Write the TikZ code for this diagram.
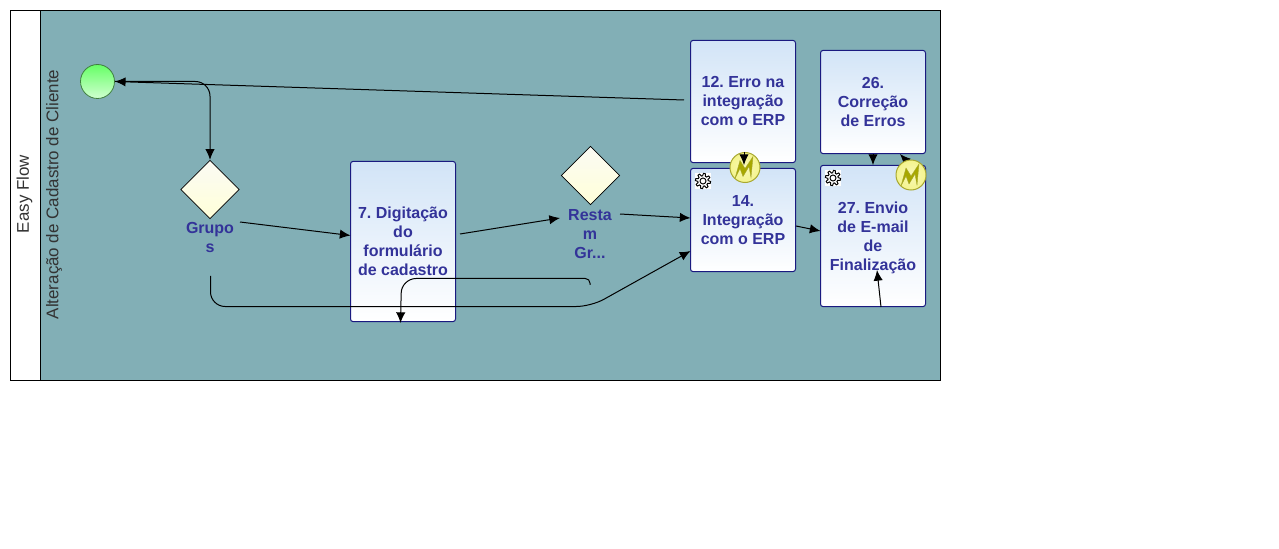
\documentclass[tikz,border=0pt]{standalone}
\usepackage{fontspec}
\setmainfont{Liberation Sans}
\usetikzlibrary{arrows.meta,shapes.geometric}
\definecolor{lanefill}{HTML}{82AFB6}
\definecolor{lanelabel}{HTML}{333333}
\definecolor{tasktext}{HTML}{333399}
\definecolor{taskline}{HTML}{1A1A80}
\definecolor{tasktop}{HTML}{D2E4F7}
\definecolor{gwtop}{HTML}{FBFBF4}
\definecolor{gwmid}{HTML}{FFFFD8}
\definecolor{badgefill}{HTML}{F4F48C}
\definecolor{badgeline}{HTML}{A8A830}
\definecolor{boltfill}{HTML}{A8A800}
\definecolor{starttop}{HTML}{66FF66}
\definecolor{startbot}{HTML}{D0FFD0}
\definecolor{startline}{HTML}{3F7F3F}
\tikzset{
  x=0.75pt,y=-0.75pt,
  lbl/.style={font=\bfseries\fontsize{12}{14.25}\selectfont,text=tasktext,align=center,inner sep=0pt},
  taskbox/.style={draw=taskline,line width=0.75pt,rounded corners=2pt,top color=tasktop,bottom color=white,
    minimum width=78.75pt,lbl},
  gateway/.style={diamond,draw=black,line width=0.5pt,minimum width=44pt,minimum height=44pt,inner sep=0pt,
    top color=gwtop,bottom color=gwmid},
  startev/.style={circle,draw=startline,line width=0.6pt,minimum size=25.5pt,inner sep=0pt,
    top color=starttop,bottom color=startbot},
  badge/.style={circle,draw=badgeline,line width=0.75pt,minimum size=22.5pt,inner sep=0pt,
    inner color=badgefill!60!white,outer color=badgefill},
  flow/.style={draw=black,line width=0.75pt,-{Latex[length=8pt,width=7pt]},rounded corners=11pt},
  lanetext/.style={font=\fontsize{12.7}{14}\selectfont,text=lanelabel,rotate=90,inner sep=0pt}
}
\newcommand{\gearicon}[2]{%
  \fill[white] (#1-8,#2-8) rectangle (#1+8,#2+8);
  \draw[black,line width=0.7pt,fill=white]
    plot[domain=11.25:371.25,samples=97] ({#1+(6.4+1.2*max(-1,min(1,2*sin(8*\x))))*cos(\x)},{#2+(6.4+1.2*max(-1,min(1,2*sin(8*\x))))*sin(\x)}) -- cycle;
  \draw[black,line width=0.7pt] (#1,#2) circle[radius=3];
}
\newcommand{\boltmark}[2]{%
  \fill[boltfill,draw=badgeline,line width=0.3pt]
    (#1-10,#2+11) -- (#1-5,#2-7) -- (#1+0,#2+1) -- (#1+8,#2-11) -- (#1+6,#2+10)
    -- (#1+4,#2-1) -- (#1-2,#2+9) -- (#1-5,#2+1) -- cycle;
}
\begin{document}
\frenchspacing
\begin{tikzpicture}
\useasboundingbox (0,0) rectangle (1279,549);
\fill[white] (0,0) rectangle (1279,549);
% pool and lane
\fill[white] (10.5,10.5) rectangle (40.5,380.5);
\fill[lanefill] (40.5,10.5) rectangle (940.5,380.5);
\draw[black,line width=0.75pt] (10.5,10.5) rectangle (940.5,380.5);
\draw[black,line width=0.75pt] (40.5,10.5) -- (40.5,380.5);
\node[lanetext] (pool) at (24.5,194) {Easy Flow};
\node[lanetext] (lane) at (54,194.5) {Alteração de Cadastro de Cliente};
% tasks
\node[taskbox,minimum height=91.75pt,text depth=0.75pt] (t12) at (743,101.5) {12. Erro na\\integração\\com o ERP};
\node[taskbox,minimum height=77.5pt]    (t14) at (743,220) {14.\\Integração\\com o ERP};
\node[taskbox,minimum height=120.25pt](t7)  at (403,241.5) {7. Digitação\\do\\formulário\\de cadastro};
\node[taskbox,minimum height=77.5pt,text depth=0.75pt]    (t26) at (873,102) {26.\\Correção\\de Erros};
\node[taskbox,minimum height=106pt,text depth=0pt] (t27) at (873,236) {27. Envio\\de E-mail\\de\\Finalização};
\gearicon{703}{181}
\gearicon{833}{178}
% gateways and start
\node[gateway] (g1) at (210,189.5) {};
\node[gateway] (g2) at (590.5,175.5) {};
\node[lbl] (g1l) at (210,237.5) {Grupo\\s};
\node[lbl] (g2l) at (590,234) {Resta\\m\\Gr...};
\node[startev] (start) at (97.5,81.5) {};
% free connector ends
\coordinate (a12) at (684,100);
\coordinate (g1r) at (240,222);
\coordinate (in7) at (350.5,235.5);
\coordinate (g1b) at (210.5,276);
\coordinate (c1) at (210.5,306.5);
\coordinate (c2) at (591,306.5);
\coordinate (in14b) at (690.5,251);
\coordinate (d0) at (590,285);
\coordinate (d1) at (590,278.5);
\coordinate (d2) at (401.5,278.5);
\coordinate (in7b) at (400.5,323);
\coordinate (o7) at (460,234);
\coordinate (ing2) at (560,218);
\coordinate (g2r) at (620,214);
\coordinate (in14) at (690.5,218);
\coordinate (o14) at (796,226);
\coordinate (in27) at (820.5,231);
\coordinate (o12) at (744,152);
\coordinate (in14t) at (744,165);
\coordinate (o26) at (873,154);
\coordinate (in27t) at (873,165);
\coordinate (o27) at (911,166);
\coordinate (in26) at (900,154);
\coordinate (o27b) at (881,307);
\coordinate (in27b) at (877,270);
% connectors under the badges
\draw[flow] (o27) -- (in26);
% badges
\node[badge] (b12) at (745,167.5) {};
\boltmark{745}{167.5}
\node[badge] (b27) at (911,175) {};
\boltmark{911}{175}
% connectors
\draw[flow,rounded corners=0pt] (a12) -- (start.east);
\draw[flow] (start.east) -- (g1.north |- start.east) -- (g1.north);
\draw[flow] (g1r) -- (in7);
\draw[flow] (g1b) -- (c1) -- (c2) -- (in14b);
\draw[flow,rounded corners=3.5pt] (d0) -- (d1) [rounded corners=11pt] -- (d2) -- (in7b);
\draw[flow] (o7) -- (ing2);
\draw[flow] (g2r) -- (in14);
\draw[flow] (o14) -- (in27);
\draw[flow] (o12) -- (in14t);
\draw[flow] (o26) -- (in27t);
\draw[flow] (o27b) -- (in27b);
\end{tikzpicture}
\end{document}
